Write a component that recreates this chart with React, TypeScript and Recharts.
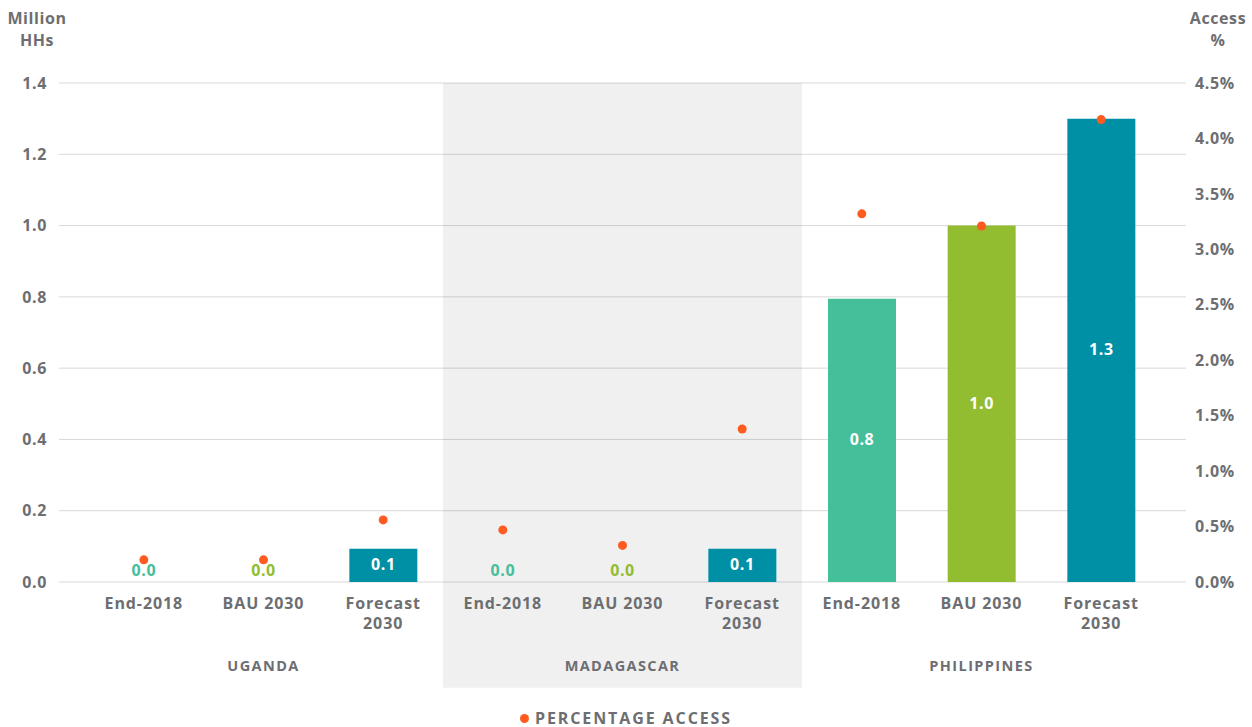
import React from 'react';
import { ComposedChart, Bar, Line, XAxis, YAxis, CartesianGrid, Legend, ReferenceArea, LabelList, Cell } from 'recharts';

const groups = ['UGANDA', 'MADAGASCAR', 'PHILIPPINES'];
const scenarios = ['End-2018', 'BAU 2030', 'Forecast 2030'];
const scenarioColors = ['#45BE9A', '#93BD30', '#0090A6'];

// million households, in group order (Uganda, Madagascar, Philippines)
const households = [0, 0, 0.093, 0, 0, 0.093, 0.795, 1.0, 1.3];
// percentage access
const access = [0.2, 0.2, 0.56, 0.47, 0.33, 1.38, 3.32, 3.21, 4.17];

const leftTicks = [0, 0.2, 0.4, 0.6, 0.8, 1.0, 1.2, 1.4];
const rightTicks = [0, 0.5, 1, 1.5, 2, 2.5, 3, 3.5, 4, 4.5];

const textGray = '#6D6E71';
const dotColor = '#FF5A1F';
const font = '"Open Sans", sans-serif';

const data = households.map((v, i) => ({
  key: `${groups[Math.floor(i / 3)]}|${scenarios[i % 3]}`,
  households: v,
  access: access[i],
}));

const CategoryTick = (props: any) => {
  const { x, y, index } = props;
  const label = scenarios[index % 3];
  const lines = label === 'Forecast 2030' ? ['Forecast', '2030'] : [label];
  return (
    <g>
      {lines.map((l, i) => (
        <text key={i} x={x} y={y + 19 + i * 20} textAnchor="middle" fill={textGray} fontSize={16} letterSpacing={0.9} fontWeight={700} fontFamily={font}>
          {l}
        </text>
      ))}
      {index % 3 === 1 && (
        <text x={x} y={y + 81} textAnchor="middle" fill={textGray} fontSize={14.5} letterSpacing={1.4} fontWeight={700} fontFamily={font}>
          {groups[Math.floor(index / 3)]}
        </text>
      )}
    </g>
  );
};

const BarValue = (props: any) => {
  const { x, y, width, height, value } = props;
  if (!value) return null;
  return (
    <text x={x + width / 2} y={y + height / 2} dy={5} textAnchor="middle" fill="#fff" fontSize={16} letterSpacing={0.6} fontWeight={700} fontFamily={font}>
      {Number(value).toFixed(1)}
    </text>
  );
};

// zero bars have no height, so their value sits just above the baseline in the bar colour
const ZeroValue = (props: any) => {
  const { x, y, value, index } = props;
  if (value !== 0) return null;
  return (
    <text x={x} y={y - 11} dy={5} textAnchor="middle" fill={scenarioColors[index % 3]} fontSize={16} letterSpacing={0.6} fontWeight={700} fontFamily={font}>
      {Number(value).toFixed(1)}
    </text>
  );
};

const LegendContent = () => (
  <div style={{ display: 'flex', justifyContent: 'center', alignItems: 'center', paddingTop: 8, fontFamily: font }}>
    <span style={{ width: 9, height: 9, borderRadius: '50%', background: dotColor, display: 'inline-block', marginRight: 6 }} />
    <span style={{ color: textGray, fontSize: 16, letterSpacing: 1.9, fontWeight: 700 }}>PERCENTAGE ACCESS</span>
  </div>
);

const headerStyle: React.CSSProperties = {
  position: 'absolute',
  color: textGray,
  fontFamily: font,
  fontSize: 16,
  letterSpacing: 0.6,
  fontWeight: 700,
  lineHeight: '22px',
  textAlign: 'center',
};

export default function App() {
  return (
    <div style={{ position: 'relative', width: 1252, height: 727, background: '#fff' }}>
      <style>{'body{margin:0}'}</style>
      <div style={{ ...headerStyle, left: 0, top: 7, width: 74 }}>Million<br />HHs</div>
      <div style={{ ...headerStyle, left: 1184, top: 7, width: 68 }}>Access<br />%</div>
      <ComposedChart width={1252} height={727} data={data} margin={{ top: 83, right: 0, left: 0, bottom: 0 }}>
        <ReferenceArea
          yAxisId="left"
          x1="MADAGASCAR|End-2018"
          x2="MADAGASCAR|Forecast 2030"
          y1={-0.297}
          y2={1.4}
          ifOverflow="visible"
          fill="#000"
          fillOpacity={0.06}
          stroke="none"
        />
        <CartesianGrid yAxisId="left" vertical={false} stroke="#D9D9D9" />
        <XAxis
          dataKey="key"
          interval={0}
          height={117}
          tickLine={false}
          axisLine={false}
          padding={{ left: 25, right: 25 }}
          tick={<CategoryTick />}
        />
        <YAxis
          yAxisId="left"
          width={59}
          domain={[0, 1.4]}
          ticks={leftTicks}
          tickLine={false}
          axisLine={false}
          tickMargin={6}
          tickFormatter={(v) => Number(v).toFixed(1)}
          tick={{ fill: textGray, fontSize: 16, letterSpacing: 0.6, fontWeight: 700, fontFamily: font }}
        />
        <YAxis
          yAxisId="right"
          orientation="right"
          width={66}
          domain={[0, 4.5]}
          ticks={rightTicks}
          tickLine={false}
          axisLine={false}
          tickMargin={3}
          tickFormatter={(v) => `${Number(v).toFixed(1)}%`}
          tick={{ fill: textGray, fontSize: 16, letterSpacing: 0.6, fontWeight: 700, fontFamily: font }}
        />
        <Legend verticalAlign="bottom" height={28} content={<LegendContent />} />
        <Bar yAxisId="left" dataKey="households" barSize={68} legendType="none" isAnimationActive={false}>
          {data.map((d, i) => (
            <Cell key={d.key} fill={scenarioColors[i % 3]} />
          ))}
          <LabelList dataKey="households" content={<BarValue />} />
        </Bar>
        <Line
          yAxisId="left"
          dataKey="households"
          stroke="none"
          dot={false}
          activeDot={false}
          legendType="none"
          isAnimationActive={false}
        >
          <LabelList dataKey="households" content={<ZeroValue />} />
        </Line>
        <Line
          yAxisId="right"
          dataKey="access"
          name="PERCENTAGE ACCESS"
          stroke="none"
          dot={{ r: 4.5, fill: dotColor, stroke: 'none' }}
          activeDot={false}
          legendType="circle"
          isAnimationActive={false}
        />
      </ComposedChart>
    </div>
  );
}
